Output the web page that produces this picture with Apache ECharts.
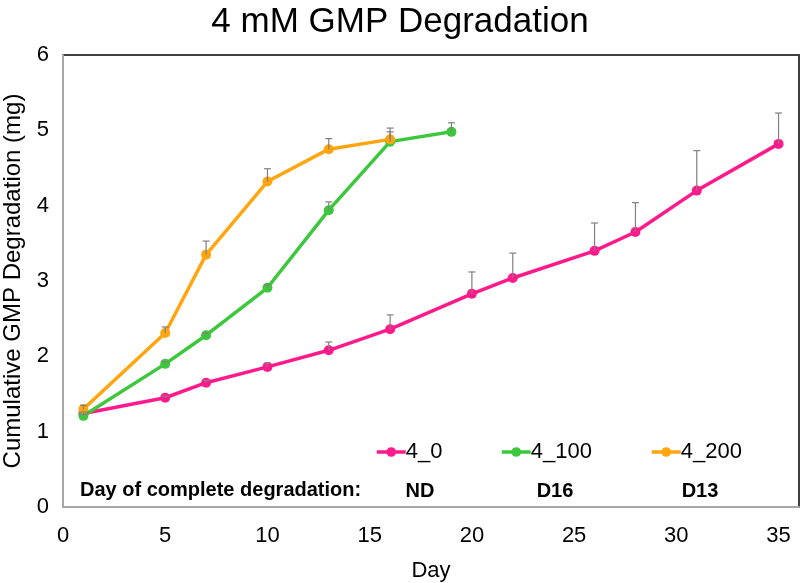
<!DOCTYPE html>
<html><head><meta charset="utf-8">
<script src="https://cdn.jsdelivr.net/npm/echarts@6/dist/echarts.min.js"></script>
<style>html,body{margin:0;padding:0;background:#fff}#c{width:800px;height:583px}</style>
</head><body><div id="c"></div>
<script>
const titleText = '4 mM GMP Degradation';
const xAxisName = 'Day';
const yAxisName = 'Cumulative GMP Degradation (mg)';
const seriesNames = ['4_0', '4_100', '4_200'];
const days0 = [1, 5, 7, 10, 13, 16, 20, 22, 26, 28, 31, 35];
const vals0 = [1.24, 1.45, 1.65, 1.86, 2.08, 2.36, 2.83, 3.04, 3.40, 3.65, 4.20, 4.82];
const err0  = [0.02, 0.02, 0.03, 0.05, 0.11, 0.19, 0.29, 0.33, 0.37, 0.39, 0.53, 0.41];
const days100 = [1, 5, 7, 10, 13, 16, 19];
const vals100 = [1.21, 1.90, 2.28, 2.91, 3.94, 4.85, 4.98];
const err100  = [0.02, 0.03, 0.03, 0.04, 0.11, 0.13, 0.12];
const days200 = [1, 5, 7, 10, 13, 16];
const vals200 = [1.30, 2.31, 3.35, 4.32, 4.75, 4.88];
const err200  = [0.05, 0.08, 0.18, 0.17, 0.14, 0.15];
const annotationLabel = 'Day of complete degradation:';
const completeDays = ['ND', 'D16', 'D13'];

const colors = ['#FF1A8C', '#3DC73D', '#FFA50F'];
const font = 'Liberation Sans, Arial, sans-serif';

function pts(d, v) { return d.map((x, i) => [x, v[i]]); }
function errPts(d, v, e) { return d.map((x, i) => [x, v[i], v[i] + e[i]]); }

const groups = [
  [days0, vals0, err0],
  [days100, vals100, err100],
  [days200, vals200, err200]
];

function errRender(params, api) {
  const p0 = api.coord([api.value(0), api.value(1)]);
  const p1 = api.coord([api.value(0), api.value(2)]);
  const style = { stroke: '#808080', lineWidth: 1.2 };
  return {
    type: 'group',
    children: [
      { type: 'line', shape: { x1: p0[0], y1: p0[1], x2: p1[0], y2: p1[1] }, style },
      { type: 'line', shape: { x1: p1[0] - 3.5, y1: p1[1], x2: p1[0] + 3.5, y2: p1[1] }, style }
    ]
  };
}

const series = [];
groups.forEach((g, i) => {
  series.push({
    name: seriesNames[i], type: 'line', data: pts(g[0], g[1]),
    symbol: 'circle', symbolSize: 10, color: colors[i],
    lineStyle: { width: 3.5, color: colors[i] }, itemStyle: { color: colors[i] },
    z: 3
  });
});
groups.forEach((g, i) => {
  series.push({
    type: 'custom', data: errPts(g[0], g[1], g[2]), renderItem: errRender,
    encode: { x: 0, y: [1, 2] }, z: 4, silent: true
  });
});

const legendLefts = [375, 500, 650];
const legends = seriesNames.map((n, i) => ({
  data: [n], left: legendLefts[i], top: 441, padding: 0, itemWidth: 29, itemHeight: 12, itemGap: 0,
  lineStyle: { width: 3.5 },
  textStyle: { fontFamily: font, fontSize: 22, color: '#000', padding: [0, 0, 0, -5] }
}));

const annX = [420, 555, 700];
const graphics = [{
  type: 'text', left: 80, top: 480,
  style: { text: annotationLabel, font: 'bold 20px ' + font, fill: '#000' }
}].concat(completeDays.map((t, i) => ({
  type: 'text', x: annX[i], y: 491,
  style: { text: t, font: 'bold 20px ' + font, fill: '#000', align: 'center', verticalAlign: 'middle' }
})));

const chart = echarts.init(document.getElementById('c'), null, { renderer: 'canvas' });
chart.setOption({
  animation: false,
  backgroundColor: '#fff',
  title: { text: titleText, left: 'center', top: 0,
    textStyle: { fontFamily: font, fontSize: 35, fontWeight: 'normal', color: '#000' } },
  legend: legends,
  grid: { left: 63, right: 1, top: 55, bottom: 76, containLabel: false, outerBoundsMode: 'none',
    show: true, borderColor: '#404040', borderWidth: 2 },
  xAxis: {
    type: 'value', min: 0, max: 36, interval: 5,
    name: xAxisName, nameLocation: 'middle', nameGap: 53,
    nameTextStyle: { fontFamily: font, fontSize: 22, color: '#000' },
    axisLine: { show: true, lineStyle: { color: '#A6A6A6', width: 2 } },
    axisTick: { show: false }, splitLine: { show: false },
    axisLabel: { fontFamily: font, fontSize: 22, color: '#000', margin: 18,
      formatter: v => (v % 5 === 0 ? String(v) : '') }
  },
  yAxis: {
    type: 'value', min: 0, max: 6, interval: 1,
    name: yAxisName, nameLocation: 'middle', nameGap: 36, nameRotate: 90,
    nameTextStyle: { fontFamily: font, fontSize: 24, color: '#000' },
    axisLine: { show: true, lineStyle: { color: '#A6A6A6', width: 2 } },
    axisTick: { show: false }, splitLine: { show: false },
    axisLabel: { fontFamily: font, fontSize: 22, color: '#000', margin: 14 }
  },
  graphic: graphics,
  series: series
});
</script></body></html>
